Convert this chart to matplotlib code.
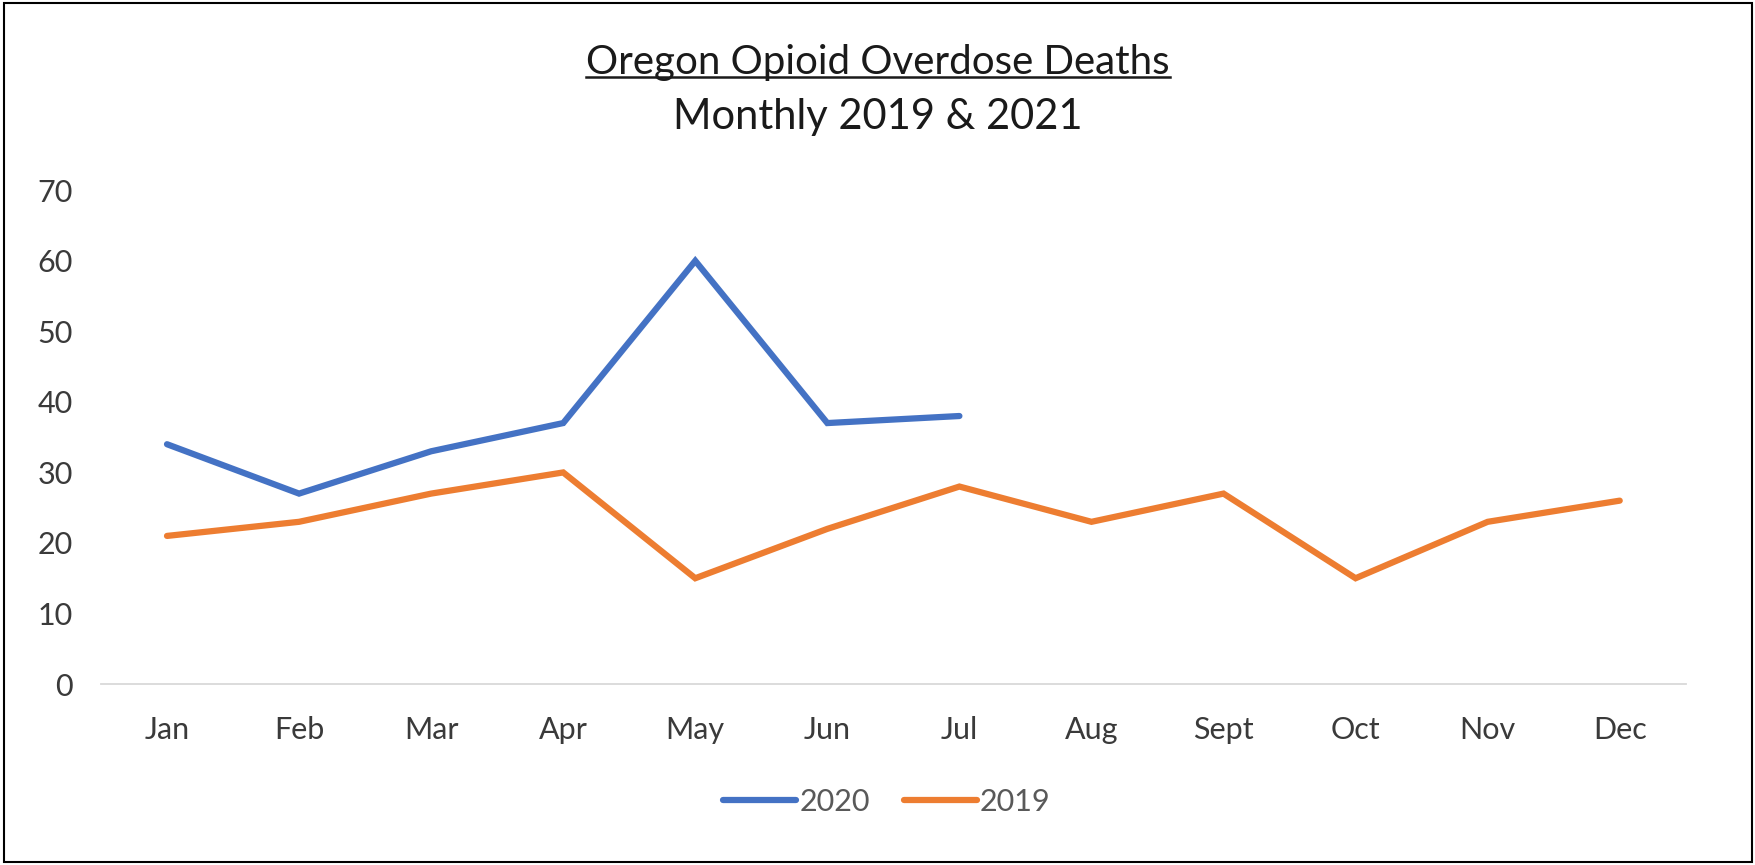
import matplotlib
matplotlib.use("Agg")
import matplotlib.pyplot as plt
from matplotlib.lines import Line2D
from matplotlib.patches import Rectangle

plt.rcParams['font.family'] = ['Lato', 'DejaVu Sans']

months = ['Jan', 'Feb', 'Mar', 'Apr', 'May', 'Jun', 'Jul', 'Aug', 'Sept', 'Oct', 'Nov', 'Dec']
deaths_2020 = [34, 27, 33, 37, 60, 37, 38]
deaths_2019 = [21, 23, 27, 30, 15, 22, 28, 23, 27, 15, 23, 26]
y_ticks = [0, 10, 20, 30, 40, 50, 60, 70]

fig = plt.figure(figsize=(17.56, 8.65), dpi=100)
ax = fig.add_axes([0.0575, 0.2092, 0.9025, 0.5708])

x = list(range(len(months)))
ax.plot(x[:len(deaths_2020)], deaths_2020, color='#4472C4', lw=4.5, label='2020',
        solid_joinstyle='miter', solid_capstyle='round')
ax.plot(x, deaths_2019, color='#ED7D31', lw=4.5, label='2019',
        solid_joinstyle='miter', solid_capstyle='round')

ax.set_xlim(-0.5, 11.5)
ax.set_ylim(0, 70)
ax.set_xticks(x)
ax.set_xticklabels(months)
ax.set_yticks(y_ticks)
ax.tick_params(axis='both', length=0, labelsize=22, labelcolor='#3a3a3a')
ax.tick_params(axis='y', pad=20)
ax.tick_params(axis='x', pad=23)
for s in ['top', 'right', 'left']:
    ax.spines[s].set_visible(False)
ax.spines['bottom'].set_color('#D9D9D9')
ax.spines['bottom'].set_linewidth(1.3)

leg = fig.legend(loc='center', bbox_to_anchor=(0.505, 0.073), ncol=2, frameon=False,
                 fontsize=22, handlelength=2.4, handletextpad=0.1, columnspacing=1.1)
for t in leg.get_texts():
    t.set_color('#595959')

t1 = fig.text(0.5, 0.928, 'Oregon Opioid Overdose Deaths', ha='center', va='center',
              fontsize=29, color='#1a1a1a')
fig.text(0.5, 0.865, 'Monthly 2019 & 2021', ha='center', va='center',
         fontsize=30, color='#1a1a1a')

# underline the first title line
fig.canvas.draw()
bb = t1.get_window_extent().transformed(fig.transFigure.inverted())
uy = bb.y0 + 0.004
fig.add_artist(Line2D([bb.x0, bb.x1], [uy, uy], transform=fig.transFigure,
                      color='#1a1a1a', lw=1.8))

# outer border
fig.add_artist(Rectangle((0.002, 0.003), 0.996, 0.993, transform=fig.transFigure,
                         fill=False, edgecolor='black', lw=1.5))

fig.savefig('out.png', dpi=100)
